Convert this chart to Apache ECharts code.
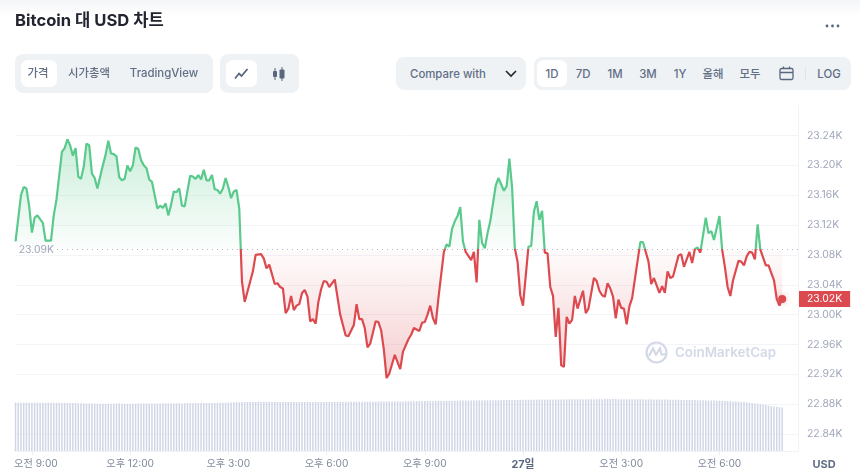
<!DOCTYPE html>
<html>
<head>
<meta charset="utf-8">
<script src="https://cdn.jsdelivr.net/npm/echarts@6/dist/echarts.min.js"></script>
<style>
html, body { margin: 0; padding: 0; background: #fff; overflow: hidden; }
body { width: 860px; height: 474px; position: relative; font-family: Inter, "Noto Sans CJK KR", sans-serif; color: #58667e; }
#chart { position: absolute; left: 0; top: 0; width: 860px; height: 474px; }
.shade { position: absolute; left: 0; top: 0; width: 860px; height: 16px; background: linear-gradient(#f4f5f7, #fff); }
.title { position: absolute; left: 15px; top: 9px; font-size: 16.6px; line-height: 22px; font-weight: 700; color: #222531; }
.more { position: absolute; left: 825px; top: 24px; width: 15px; height: 4px; }
.pill { position: absolute; background: #eff2f5; border-radius: 8px; }
.on { position: absolute; background: #fff; border-radius: 7px; }
.btn { position: absolute; font-size: 11.4px; font-weight: 500; line-height: 16px; transform: translateX(-50%); white-space: nowrap; color: #616e85; }
.mark { position: absolute; left: 675px; top: 343px; font-size: 13.4px; line-height: 18px; font-weight: 600; color: #d3d9e6; }
svg { position: absolute; overflow: visible; }
</style>
</head>
<body>
<div class="shade"></div>
<div id="chart"></div>
<div class="title">Bitcoin 대 USD 차트</div>
<svg class="more" viewBox="0 0 15 4"><circle cx="2" cy="2" r="1.4" fill="#58667e"/><circle cx="7.5" cy="2" r="1.4" fill="#58667e"/><circle cx="13" cy="2" r="1.4" fill="#58667e"/></svg>

<div class="pill" style="left:15px;top:54px;width:198px;height:39px"></div>
<div class="on" style="left:21px;top:60px;width:36px;height:27px"></div>
<div class="btn" style="left:38px;top:65px">가격</div>
<div class="btn" style="left:89px;top:65px">시가총액</div>
<div class="btn" style="left:164px;top:65px">TradingView</div>

<div class="pill" style="left:220px;top:54px;width:79px;height:39px"></div>
<div class="on" style="left:226px;top:60px;width:31px;height:27px"></div>
<svg style="left:234px;top:67px" width="15" height="13" viewBox="0 0 15 13"><path d="M1 11.5 L5 6.5 L7.5 9 L13.5 2" fill="none" stroke="#58667e" stroke-width="1.8"/></svg>
<svg style="left:272px;top:67px" width="13" height="14" viewBox="0 0 13 14"><path d="M3 1V13M10 0V14" stroke="#58667e" stroke-width="1"/><rect x="1" y="4" width="4" height="6" rx="1" fill="#58667e"/><rect x="7.5" y="2.5" width="5" height="9" rx="1" fill="#58667e"/></svg>

<div class="pill" style="left:396px;top:57px;width:130px;height:33px"></div>
<div class="btn" style="left:448px;top:66px">Compare with</div>
<svg style="left:505px;top:70px" width="12" height="8" viewBox="0 0 12 8"><path d="M1 1 L6 6 L11 1" fill="none" stroke="#222531" stroke-width="1.6"/></svg>

<div class="pill" style="left:534px;top:57px;width:317px;height:33px"></div>
<div class="on" style="left:537px;top:60px;width:30px;height:27px"></div>
<div class="btn" style="left:552px;top:66px">1D</div>
<div class="btn" style="left:583px;top:66px">7D</div>
<div class="btn" style="left:615px;top:66px">1M</div>
<div class="btn" style="left:648px;top:66px">3M</div>
<div class="btn" style="left:680px;top:66px">1Y</div>
<div class="btn" style="left:713px;top:66px">올해</div>
<div class="btn" style="left:750px;top:66px">모두</div>
<svg style="left:779px;top:66px" width="15" height="15" viewBox="0 0 15 15"><rect x="1" y="2.5" width="13" height="11" rx="1.5" fill="none" stroke="#58667e" stroke-width="1.3"/><path d="M1 6.5H14M4.5 0.5V3M10.5 0.5V3" stroke="#58667e" stroke-width="1.3"/></svg>
<div style="position:absolute;left:805px;top:67px;width:1px;height:13px;background:#dfe3ea"></div>
<div class="btn" style="left:829px;top:66px">LOG</div>

<svg style="left:645px;top:341px" width="23" height="23" viewBox="0 0 23 23"><circle cx="11.5" cy="11.5" r="10" fill="none" stroke="#d3d9e6" stroke-width="2.2"/><path d="M4 15 L8 7.5 L11 13.5 L15 7.5 L16.5 13.5 L21 13" fill="none" stroke="#d3d9e6" stroke-width="2.2"/></svg>
<div class="mark">CoinMarketCap</div>

<script>
// one slot is five minutes, slot 0 is 오전 8:30
var startMinute = 510;
var slotMinutes = 5;
var baseValue = 23.087;
var baseLabel = '23.09K';
var lastLabel = '23.02K';

var priceSlots = [
  0,2,3,4,5,6,7,8,10,11,13,14,15,17,18,19,20,21,22,23,24,25,26,27,28,29,30,32,33,34,35,36,37,38,39,40,41,42,43,44,45,
  46,47,48,49,50,52,53,54,55,56,57,58,59,60,61,62,64,65,66,67,68,69,70,71,72,73,74,75,76,77,78,79,80,81,82,
  83,84,87,88,90,91,92,93,95,96,97,98,99,100,101,102,103,104,105,106,107,108,109,110,111,112,113,114,115,117,119,121,122,124,125,126,127,
  128,129,130,132,133,134,135,136,137,139,141,142,144,145,146,148,149,150,151,152,153,154,155,157,158,159,160,161,162,163,164,165,167,168,169,170,
  171,172,173,174,176,177,179,180,181,182,183,184,185,186,188,189,190,191,192,193,194,195,196,197,198,199,200,201,202,203,204,205,206,208,209,210,
  212,213,214,215,216,217,218,219,220,221,222,223,224,225,226,229,230,232,233,234,236,237,238,239,240,241,243,244,245,247,248,249,250,251,253,254,255,256,258,
  259,260,261,262,263,265,266,267,268,269,270,271,272,273,275,276,278,279,280,281
];
var priceValues = [
  23.098,23.160,23.171,23.169,23.145,23.110,23.130,23.133,23.123,23.099,23.099,23.133,23.154,23.218,23.223,23.235,23.227,23.213,23.223,23.185,23.182,23.198,23.229,23.227,23.189,23.183,23.169,23.200,23.214,23.233,23.216,23.215,23.212,23.184,23.180,23.182,23.200,23.192,23.200,23.224,23.222,
  23.207,23.200,23.196,23.181,23.178,23.142,23.146,23.143,23.149,23.133,23.147,23.165,23.164,23.169,23.146,23.145,23.186,23.185,23.182,23.187,23.181,23.194,23.180,23.180,23.187,23.168,23.167,23.162,23.169,23.183,23.171,23.156,23.165,23.167,23.142,
  23.044,23.017,23.058,23.080,23.081,23.075,23.062,23.067,23.041,23.042,23.037,23.035,23.002,23.008,23.025,23.006,23.012,23.014,23.029,23.033,23.024,22.991,22.994,22.988,23.017,23.034,23.045,23.044,23.037,23.047,23.000,22.972,22.971,22.986,23.014,22.994,22.994,
  22.982,22.956,22.961,22.991,22.990,22.979,22.953,22.915,22.921,22.946,22.927,22.950,22.967,22.973,22.982,22.978,22.989,22.990,23.000,23.012,22.995,22.987,23.022,23.084,23.094,23.091,23.115,23.125,23.132,23.144,23.098,23.084,23.073,23.084,23.043,23.127,
  23.096,23.089,23.109,23.125,23.173,23.183,23.166,23.172,23.209,23.171,23.089,23.071,23.026,23.012,23.091,23.092,23.138,23.152,23.127,23.139,23.083,23.082,23.037,23.025,22.970,23.009,22.932,22.930,22.997,22.988,22.993,23.025,23.008,23.032,23.002,23.008,
  23.049,23.045,23.032,23.026,23.024,23.042,23.035,23.024,22.995,23.020,23.009,23.008,22.987,23.011,23.022,23.097,23.097,23.071,23.041,23.049,23.029,23.038,23.029,23.058,23.049,23.051,23.079,23.081,23.064,23.084,23.069,23.088,23.090,23.083,23.130,23.109,23.112,23.100,23.132,
  23.087,23.064,23.037,23.025,23.046,23.072,23.071,23.066,23.078,23.084,23.083,23.074,23.121,23.087,23.066,23.066,23.046,23.021,23.012,23.021
];
var volumeValues = [
  48.4,48.4,48.3,48.4,48.4,48.3,48.3,48.4,48.4,48.3,48.3,48.3,48.4,48.3,48.2,48.2,48.2,48.1,48.1,48.0,
  47.9,47.9,47.8,47.7,47.7,47.6,47.5,47.5,47.4,47.4,47.3,47.3,47.3,47.2,47.2,47.3,47.3,47.3,47.4,47.3,
  47.3,47.2,47.3,47.3,47.4,47.4,47.4,47.3,47.3,47.4,47.5,47.4,47.4,47.5,47.5,47.6,47.6,47.6,47.6,47.7,
  47.7,47.6,47.7,47.8,47.8,47.8,47.8,47.9,47.9,48.0,48.0,48.0,48.1,48.1,48.1,48.2,48.2,48.3,48.4,48.5,
  48.7,48.7,48.8,48.9,48.9,49.0,49.0,49.0,49.1,49.1,49.1,49.2,49.1,49.1,49.1,49.1,49.0,49.1,49.0,49.0,
  49.0,49.0,48.9,48.9,48.9,49.0,49.0,48.9,48.9,49.0,49.0,49.0,49.1,49.0,49.0,49.1,49.1,49.1,49.1,49.1,
  49.2,49.2,49.1,49.2,49.2,49.2,49.3,49.2,49.2,49.3,49.3,49.3,49.4,49.4,49.4,49.4,49.5,49.5,49.5,49.5,
  49.6,49.6,49.6,49.7,49.7,49.7,49.8,49.8,49.8,49.9,49.9,49.9,50.0,50.0,50.0,50.0,50.1,50.1,50.1,50.2,
  50.3,50.3,50.3,50.4,50.4,50.4,50.5,50.5,50.5,50.6,50.6,50.6,50.7,50.7,50.7,50.8,50.8,50.8,50.9,50.9,
  51.0,51.0,51.0,51.1,51.1,51.1,51.2,51.2,51.2,51.3,51.3,51.3,51.4,51.4,51.4,51.4,51.5,51.5,51.5,51.5,
  51.6,51.6,51.6,51.6,51.7,51.7,51.7,51.7,51.7,51.8,51.8,51.8,51.8,51.8,51.8,51.8,51.9,51.9,51.9,51.9,
  51.9,51.8,51.8,51.8,51.8,51.8,51.7,51.7,51.7,51.7,51.6,51.6,51.6,51.6,51.5,51.5,51.5,51.4,51.4,51.4,
  51.3,51.3,51.2,51.2,51.1,51.1,51.0,51.0,50.9,50.9,50.8,50.7,50.7,50.6,50.5,50.5,50.4,50.3,50.2,50.1,
  50.0,49.9,49.8,49.6,49.5,49.3,49.1,48.9,48.6,48.3,48.0,47.6,47.3,46.9,46.5,46.1,45.5,44.9,44.5,44.2,
  43.8,43.4
];
var tickMinutes = [540, 720, 900, 1080, 1260, 1440, 1620, 1800];
var tickLabels = ['오전 9:00', '오후 12:00', '오후 3:00', '오후 6:00', '오후 9:00', '27일', '오전 3:00', '오전 6:00'];

var fontsty = 'Inter, "Noto Sans CJK KR", sans-serif';
var green = '#5ac98c';
var red = '#dc4a50';
var axisMin = 509;
var axisMax = 1944;

function slotToMinute(slot) {
  return startMinute + slot * slotMinutes;
}
var priceData = priceSlots.map(function (slot, i) {
  return [slotToMinute(slot), priceValues[i]];
});
var volumeData = volumeValues.map(function (v, i) {
  return [slotToMinute(i), v];
});
var lastPoint = priceData[priceData.length - 1];
var topPrice = Math.max.apply(null, priceValues);
var lowPrice = Math.min.apply(null, priceValues);
var baseStop = (topPrice - baseValue) / (topPrice - lowPrice);

var myChart = echarts.init(document.getElementById('chart'), null, { renderer: 'canvas' });
var option = {
  animation: false,
  textStyle: { fontFamily: fontsty },
  grid: [
    { left: 15, width: 783, top: 105.65, height: 328.35 },
    { left: 15, width: 783, top: 395, height: 56 }
  ],
  xAxis: [
    { type: 'value', gridIndex: 0, min: axisMin, max: axisMax, show: false },
    {
      type: 'value',
      gridIndex: 1,
      min: axisMin,
      max: axisMax,
      splitLine: { show: false },
      axisLine: { show: true, lineStyle: { color: '#f1f3f6' } },
      axisTick: { show: true, length: 4, customValues: tickMinutes, lineStyle: { color: '#eceff3' } },
      axisLabel: {
        customValues: tickMinutes,
        margin: 8,
        fontSize: 10.2,
        fontFamily: fontsty,
        color: '#808a9d',
        formatter: function (value) {
          var label = tickLabels[tickMinutes.indexOf(value)];
          if (value === 540) {
            return '{first|' + label + '}';
          }
          return value === 1440 ? '{day|' + label + '}' : label;
        },
        rich: {
          first: { fontSize: 10.2, color: '#808a9d', fontFamily: fontsty, padding: [0, 0, 0, 8] },
          day: { fontSize: 10.8, fontWeight: 700, color: '#58667e', fontFamily: fontsty }
        }
      }
    }
  ],
  yAxis: [
    {
      type: 'value',
      gridIndex: 0,
      position: 'right',
      min: 22.84,
      max: 23.28,
      interval: 0.04,
      axisLine: { show: true, lineStyle: { color: '#f1f3f6' } },
      axisTick: { show: false },
      splitLine: { showMaxLine: false, lineStyle: { color: '#f3f4f7' } },
      axisLabel: {
        margin: 9,
        fontSize: 10.4,
        fontFamily: fontsty,
        color: '#a1a7bb',
        showMaxLabel: false,
        formatter: function (value) { return value.toFixed(2) + 'K'; }
      }
    },
    {
      type: 'value',
      gridIndex: 1,
      position: 'right',
      min: 0,
      max: 56,
      axisLine: { show: true, lineStyle: { color: '#f1f3f6' } },
      axisTick: { show: false },
      axisLabel: { show: false },
      splitLine: { show: false }
    }
  ],
  series: [
    {
      type: 'line',
      xAxisIndex: 0,
      yAxisIndex: 0,
      data: priceData,
      showSymbol: false,
      symbol: 'none',
      smooth: false,
      z: 5,
      lineStyle: {
        width: 2.2,
        color: {
          type: 'linear', x: 0, y: 0, x2: 0, y2: 1,
          colorStops: [
            { offset: 0, color: green },
            { offset: baseStop, color: green },
            { offset: baseStop, color: red },
            { offset: 1, color: red }
          ]
        }
      },
      areaStyle: {
        origin: baseValue,
        opacity: 1,
        color: {
          type: 'linear', x: 0, y: 0, x2: 0, y2: 1,
          colorStops: [
            { offset: 0, color: 'rgba(90,201,140,0.32)' },
            { offset: baseStop, color: 'rgba(90,201,140,0.02)' },
            { offset: baseStop, color: 'rgba(220,74,80,0.02)' },
            { offset: 1, color: 'rgba(220,74,80,0.27)' }
          ]
        }
      },
      markLine: {
        silent: true,
        symbol: 'none',
        animation: false,
        data: [
          [
            {
              coord: [586, baseValue],
              lineStyle: { color: '#b4b9c6', type: [1, 4], width: 1 },
              label: {
                show: true,
                position: 'start',
                distance: 3,
                formatter: baseLabel,
                color: '#a1a7bb',
                fontSize: 10.4,
                fontFamily: fontsty
              }
            },
            { coord: [axisMax, baseValue] }
          ],
          [
            {
              coord: [axisMin, lastPoint[1]],
              lineStyle: { color: 'rgba(0,0,0,0)', width: 1 },
              label: {
                show: true,
                position: 'end',
                distance: 1,
                formatter: lastLabel,
                color: '#fff',
                backgroundColor: red,
                padding: [0, 8, 0, 8],
                lineHeight: 16,
                fontSize: 10.4,
                fontFamily: fontsty
              }
            },
            { coord: [axisMax, lastPoint[1]] }
          ]
        ]
      },
      markPoint: {
        silent: true,
        animation: false,
        symbol: 'circle',
        symbolSize: 8,
        label: { show: false },
        itemStyle: { color: red, shadowBlur: 6, shadowColor: 'rgba(220,74,80,0.4)' },
        data: [{ coord: lastPoint }]
      }
    },
    {
      type: 'bar',
      xAxisIndex: 1,
      yAxisIndex: 1,
      data: volumeData,
      barWidth: 1.5,
      z: 2,
      itemStyle: { color: '#d0d6e5' }
    }
  ]
};
myChart.setOption(option);
</script>
<div style="position:absolute;left:824px;top:456px;transform:translateX(-50%);font-size:11px;line-height:16px;font-weight:700;color:#616e85">USD</div>
</body>
</html>
